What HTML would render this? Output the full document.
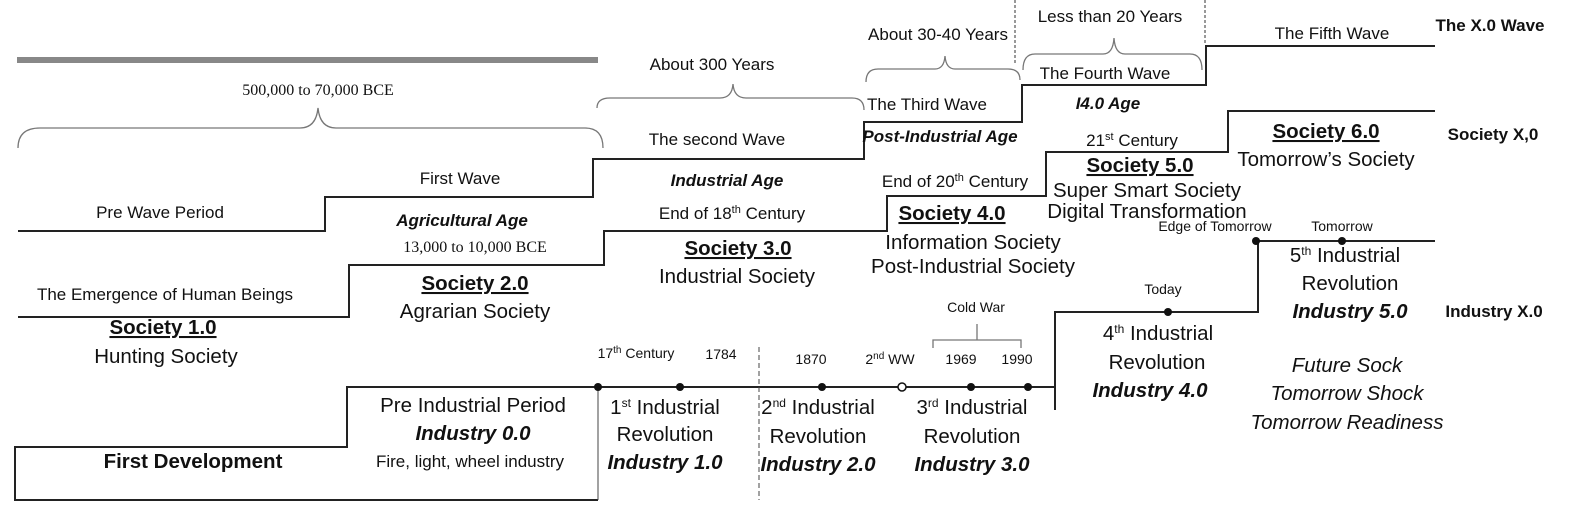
<!DOCTYPE html>
<html><head><meta charset="utf-8"><style>
html,body{margin:0;padding:0;background:#fff;}
svg{display:block;}
text{font-family:"Liberation Sans Narrow","Liberation Sans",sans-serif;fill:#111;text-anchor:middle;}
.s{font-size:17px}
.m{font-size:20.5px}
.b{font-weight:bold}
.i{font-style:italic}
.u{text-decoration:underline}
.sr{font-family:"Liberation Serif",serif;font-size:16px}
.sm{font-size:14px}
</style></head><body>
<svg width="1594" height="506" viewBox="0 0 1594 506" xmlns="http://www.w3.org/2000/svg">
<g fill="none" stroke="#222" stroke-width="2">
<polyline points="18,231 325,231 325,197 593,197 593,159 864,159 864,122 1022,122 1022,85 1206,85 1206,46 1435,46"/>
<polyline points="18,317 349,317 349,265 604,265 604,231 887,231 887,196 1046,196 1046,152 1228,152 1228,111 1435,111"/>
<polyline points="598,500 15,500 15,447 347,447 347,387 1055,387"/>
<polyline points="1055,410 1055,312 1258,312 1258,241 1435,241"/>
</g>
<line x1="598" y1="387" x2="598" y2="500" stroke="#444" stroke-width="1"/>
<line x1="759" y1="347" x2="759" y2="500" stroke="#444" stroke-width="1" stroke-dasharray="5,3"/>
<line x1="1015" y1="0" x2="1015" y2="63" stroke="#333" stroke-width="1" stroke-dasharray="3,2"/>
<line x1="1205" y1="0" x2="1205" y2="45" stroke="#333" stroke-width="1" stroke-dasharray="3,2"/>
<rect x="17" y="57" width="581" height="6" fill="#888"/>
<g fill="none" stroke="#777" stroke-width="1.3">
<path d="M18,148 Q18,128 40,128 L300,128 Q316,128 318,108 Q320,128 336,128 L585,128 Q603,128 603,148"/>
<path d="M597,108 Q597,98 610,98 L720,98 Q732,98 733,84 Q734,98 746,98 L852,98 Q864,98 864,110"/>
<path d="M866,82 Q866,69 878,69 L935,69 Q944,69 945,56 Q946,69 955,69 L1008,69 Q1020,69 1020,80"/>
<path d="M1023,70 Q1023,54 1035,54 L1103,54 Q1113,54 1114,38 Q1115,54 1125,54 L1190,54 Q1202,54 1202,70"/>
<path d="M933,348 L933,340 L1021,340 L1021,348 M977,340 L977,324"/>
</g>
<g fill="#111">
<circle cx="598" cy="387" r="4"/><circle cx="680" cy="387" r="4"/><circle cx="822" cy="387" r="4"/>
<circle cx="902" cy="387" r="4" fill="#fff" stroke="#111" stroke-width="1.5"/>
<circle cx="971" cy="387" r="4"/><circle cx="1028" cy="387" r="4"/>
<circle cx="1168" cy="312" r="4"/><circle cx="1256" cy="241" r="4"/><circle cx="1342" cy="241" r="4"/>
</g>
<text class="sr" x="318" y="95">500,000 to 70,000 BCE</text>
<text class="s" x="712" y="70">About 300 Years</text>
<text class="s" x="938" y="40">About 30-40 Years</text>
<text class="s" x="1110" y="22">Less than 20 Years</text>
<text class="s" x="1332" y="39">The Fifth Wave</text>
<text class="s b" x="1490" y="31">The X.0 Wave</text>
<text class="s" x="927" y="110">The Third Wave</text>
<text class="s" x="1105" y="79">The Fourth Wave</text>
<text class="s b i" x="1108" y="109">I4.0 Age</text>
<text class="s b i" x="940" y="142">Post-Industrial Age</text>
<text class="s" x="717" y="145">The second Wave</text>
<text class="s b i" x="727" y="186">Industrial Age</text>
<text class="s" x="460" y="184">First Wave</text>
<text class="s" x="160" y="218">Pre Wave Period</text>
<text class="s b i" x="462" y="226">Agricultural Age</text>
<text class="sr" x="475" y="252">13,000 to 10,000 BCE</text>
<text class="s" x="732" y="219">End of 18<tspan font-size="11" dy="-6">th</tspan><tspan dy="6"> Century</tspan></text>
<text class="m b u" x="738" y="255">Society 3.0</text>
<text class="m" x="737" y="283">Industrial Society</text>
<text class="s" x="955" y="187">End of 20<tspan font-size="11" dy="-6">th</tspan><tspan dy="6"> Century</tspan></text>
<text class="m b u" x="952" y="220">Society 4.0</text>
<text class="m" x="973" y="249">Information Society</text>
<text class="m" x="973" y="273">Post-Industrial Society</text>
<text class="s" x="1132" y="146">21<tspan font-size="11" dy="-6">st</tspan><tspan dy="6"> Century</tspan></text>
<text class="m b u" x="1140" y="172">Society 5.0</text>
<text class="m" x="1147" y="197">Super Smart Society</text>
<text class="m" x="1147" y="218">Digital Transformation</text>
<text class="m b u" x="1326" y="138">Society 6.0</text>
<text class="m" x="1326" y="166">Tomorrow’s Society</text>
<text class="s b" x="1493" y="140" font-size="15">Society X,0</text>
<text class="sm" x="1215" y="231">Edge of Tomorrow</text>
<text class="sm" x="1342" y="231">Tomorrow</text>
<text class="m" x="1345" y="262">5<tspan font-size="12" dy="-7">th</tspan><tspan dy="7">   Industrial</tspan></text>
<text class="m" x="1350" y="290">Revolution</text>
<text class="m b i" x="1350" y="318">Industry 5.0</text>
<text class="s b" x="1494" y="317" font-size="15">Industry X.0</text>
<text class="sm" x="1163" y="294">Today</text>
<text class="m" x="1158" y="340">4<tspan font-size="12" dy="-7">th</tspan><tspan dy="7">   Industrial</tspan></text>
<text class="m" x="1157" y="369">Revolution</text>
<text class="m b i" x="1150" y="397">Industry 4.0</text>
<text class="m i" x="1347" y="372">Future Sock</text>
<text class="m i" x="1347" y="400">Tomorrow Shock</text>
<text class="m i" x="1347" y="429">Tomorrow Readiness</text>
<text class="sm" x="976" y="312">Cold War</text>
<text class="sm" x="636" y="358">17<tspan font-size="10" dy="-5">th</tspan><tspan dy="5"> Century</tspan></text>
<text class="sm" x="721" y="359">1784</text>
<text class="sm" x="811" y="364">1870</text>
<text class="sm" x="890" y="364">2<tspan font-size="10" dy="-5">nd</tspan><tspan dy="5"> WW</tspan></text>
<text class="sm" x="961" y="364">1969</text>
<text class="sm" x="1017" y="364">1990</text>
<text class="s" x="165" y="300">The Emergence of Human Beings</text>
<text class="m b u" x="163" y="334">Society 1.0</text>
<text class="m" x="166" y="363">Hunting Society</text>
<text class="m b u" x="475" y="290">Society 2.0</text>
<text class="m" x="475" y="318">Agrarian Society</text>
<text class="m b" x="193" y="468">First Development</text>
<text class="m" x="473" y="412">Pre Industrial Period</text>
<text class="m b i" x="473" y="440">Industry 0.0</text>
<text class="s" x="470" y="467">Fire, light, wheel industry</text>
<text class="m" x="665" y="414">1<tspan font-size="12" dy="-7">st</tspan><tspan dy="7"> Industrial</tspan></text>
<text class="m" x="665" y="441">Revolution</text>
<text class="m b i" x="665" y="469">Industry 1.0</text>
<text class="m" x="818" y="414">2<tspan font-size="12" dy="-7">nd</tspan><tspan dy="7">  Industrial</tspan></text>
<text class="m" x="818" y="443">Revolution</text>
<text class="m b i" x="818" y="471">Industry 2.0</text>
<text class="m" x="972" y="414">3<tspan font-size="12" dy="-7">rd</tspan><tspan dy="7">  Industrial</tspan></text>
<text class="m" x="972" y="443">Revolution</text>
<text class="m b i" x="972" y="471">Industry 3.0</text>
</svg>
</body></html>
